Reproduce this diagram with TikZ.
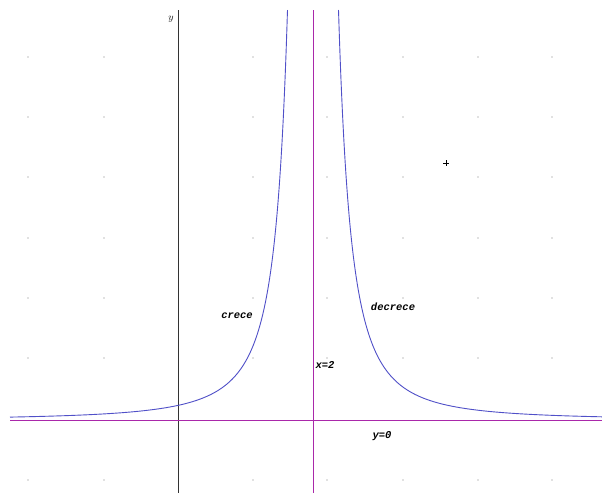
\documentclass[tikz,border=0pt]{standalone}
\usepackage{fontspec}
\setmainfont{Liberation Serif}
\usetikzlibrary{calc}
\newfontfamily\lblfont{Liberation Mono}
\definecolor{curvecol}{RGB}{80,80,200}
\definecolor{asycol}{RGB}{170,40,170}
\tikzset{
  gdot/.style={fill=black!50},
  curveline/.style={draw=curvecol,line width=0.9pt},
  asyline/.style={draw=asycol,line width=0.8pt},
  axisline/.style={draw=black!80,line width=0.7pt},
  lbl/.style={font=\lblfont\bfseries\itshape\fontsize{10.5}{12}\selectfont,inner sep=0pt}
}
\begin{document}
\begin{tikzpicture}[x=1pt,y=-1pt]
\useasboundingbox (0,0) rectangle (602,493);
\fill[white] (0,0) rectangle (602,493);
% grid dots
\foreach \gx in {28,104,253,327,403,478,552}{
  \foreach \gy in {57,117,177,238,298,358,480}{
    \fill[gdot] (\gx,\gy) circle (0.6);
  }
}
% axes
\coordinate (ytop) at (178,10);
\coordinate (ybot) at (178,493);
\draw[axisline] (ytop) -- (ybot);
\node[font=\sffamily\fontsize{10}{11}\selectfont,inner sep=0pt] (ylab) at (171,19) {$y$};
\coordinate (atop) at (313,10);
\coordinate (abot) at (313,493);
\draw[asyline] (atop) -- (abot);
\coordinate (hl) at (10,420);
\coordinate (hr) at (602,420);
\draw[asyline] (hl) -- (hr);
% curve
\draw[curveline] plot[domain=10:287.5,samples=200,smooth] (\x,{420-410*(25.5/(313-\x))^2});
\draw[curveline] plot[domain=338.5:602,samples=200,smooth] (\x,{420-410*(25.5/(\x-313))^2});
% labels
\node[lbl] (crece) at (237,316) {crece};
\node[lbl] (decrece) at (393,307) {decrece};
\node[lbl] (xeq) at (325,365) {x=2};
\node[lbl] (yeq) at (382,436) {y=0};
% plus marker
\coordinate (pc) at (446,163);
\draw[black,line width=0.5pt] ($(pc)+(-3,0)$) -- ($(pc)+(3,0)$);
\draw[black,line width=0.5pt] ($(pc)+(0,-3)$) -- ($(pc)+(0,3)$);
\end{tikzpicture}
\end{document}
